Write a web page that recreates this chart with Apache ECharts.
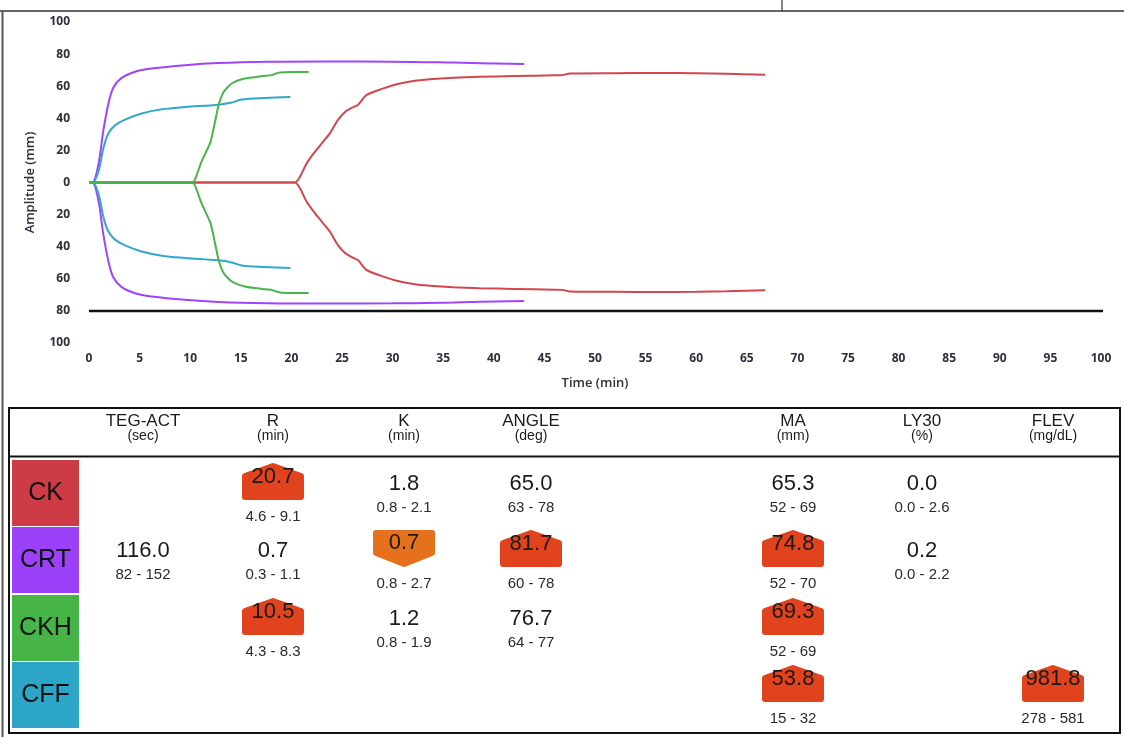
<!DOCTYPE html>
<html>
<head>
<meta charset="utf-8">
<script src="https://cdn.jsdelivr.net/npm/echarts@6/dist/echarts.min.js"></script>
<style>
html,body{margin:0;padding:0;background:#fff;}
#main{width:1124px;height:737px;}
</style>
</head>
<body>
<div id="main"></div>
<script>
// ---------- tracing data (upper half amplitude, mm, vs time, min) ----------
const ckTime  = [0, 20.35, 20.85, 21.5, 22.2, 23.0, 23.8, 24.6, 25.3, 25.95, 26.6, 27.4, 28.8, 30.4, 32.05, 33.7, 36, 38.6, 42, 46, 46.8, 47.5, 52, 56, 60, 63, 66.8];
const ckAmp   = [0, 0, 3.6, 11.9, 18.2, 24.4, 30.6, 39, 44, 46.5, 48.5, 54.4, 58, 61.2, 63.3, 64.4, 65.3, 65.9, 66.3, 66.8, 66.9, 67.9, 68.1, 68.2, 68.1, 67.8, 67.2];
const crtTime = [0, 0.33, 0.92, 1.41, 1.9, 2.4, 3.2, 4.55, 6.2, 9.5, 12.8, 17.7, 23.3, 30, 36, 43];
const crtAmp  = [0, 0, 11, 32, 48.6, 59, 65, 69, 71, 73.1, 74.4, 75.2, 75.4, 75.3, 74.7, 73.8];
const ckhTime = [0, 10.2, 10.5, 11.1, 12.0, 12.45, 12.8, 13.3, 14.1, 15.4, 17.1, 18.05, 18.4, 18.9, 20, 21.7];
const ckhAmp  = [0, 0, 2.3, 12.7, 25.2, 37.7, 48.1, 56.4, 61.7, 64.8, 66.3, 66.9, 67.8, 68.5, 68.8, 68.9];
const cffTime = [0, 0.36, 0.92, 1.41, 1.9, 2.57, 3.56, 5.2, 7.2, 9.5, 12.8, 14.1, 15.1, 17.4, 19.9];
const cffAmp  = [0, 0, 6.5, 21, 30.4, 35.6, 39.2, 43, 45.6, 47, 48.5, 49.8, 51.7, 52.7, 53.3];
const refLevel = -80;
const refSpan = [0, 100.9];

// ---------- table data ----------
const rowNames = ['CK', 'CRT', 'CKH', 'CFF'];
const params = ['TEG-ACT', 'R', 'K', 'ANGLE', 'MA', 'LY30', 'FLEV'];
const units = ['(sec)', '(min)', '(min)', '(deg)', '(mm)', '(%)', '(mg/dL)'];
const ckValues  = [null, '20.7', '1.8', '65.0', '65.3', '0.0', null];
const crtValues = ['116.0', '0.7', '0.7', '81.7', '74.8', '0.2', null];
const ckhValues = [null, '10.5', '1.2', '76.7', '69.3', null, null];
const cffValues = [null, null, null, null, '53.8', null, '981.8'];
const ckRanges  = [null, '4.6 - 9.1', '0.8 - 2.1', '63 - 78', '52 - 69', '0.0 - 2.6', null];
const crtRanges = ['82 - 152', '0.3 - 1.1', '0.8 - 2.7', '60 - 78', '52 - 70', '0.0 - 2.2', null];
const ckhRanges = [null, '4.3 - 8.3', '0.8 - 1.9', '64 - 77', '52 - 69', null, null];
const cffRanges = [null, null, null, null, '15 - 32', null, '278 - 581'];
const ckFlags  = ['', 'H', '', '', '', '', ''];
const crtFlags = ['', '', 'L', 'H', 'H', '', ''];
const ckhFlags = ['', 'H', '', '', 'H', '', ''];
const cffFlags = ['', '', '', '', 'H', '', 'H'];

const lineColors = ['#d2474f', '#a044fb', '#49b449', '#31a7cc'];
const boxColors  = ['#cd3c46', '#9b41fa', '#46b446', '#2da5c6'];

// ---------- build ----------
const samples = [
  {name: 'CK',  t: ckTime,  a: ckAmp,  c: lineColors[0], sm: 0.2},
  {name: 'CRT', t: crtTime, a: crtAmp, c: lineColors[1], sm: 0.35},
  {name: 'CFF', t: cffTime, a: cffAmp, c: lineColors[3], sm: 0.35},
  {name: 'CKH', t: ckhTime, a: ckhAmp, c: lineColors[2], sm: 0.2}
];
const series = [];
samples.forEach(s => {
  [1, -1].forEach(sign => {
    series.push({
      name: s.name, type: 'line', symbol: 'none', smooth: s.sm,
      lineStyle: {color: s.c, width: 2}, itemStyle: {color: s.c},
      data: s.t.map((t, i) => [t, sign * s.a[i]]), silent: true, z: 3
    });
  });
});
series.unshift({
  type: 'line', symbol: 'none', clip: false, silent: true, z: 2,
  lineStyle: {color: '#111', width: 2.5},
  data: refSpan.map(t => [t, refLevel])
});

const FONT = '"Liberation Sans", Arial, sans-serif';
const colX = [143, 273, 404, 531, 793, 922, 1053];
const rowTop0 = 460, rowH = 67;
const graphic = [];
function txt(x, y, text, size, color, extra) {
  graphic.push(Object.assign({
    type: 'text', z: 20, silent: true,
    style: {x: x, y: y, text: text, font: size + 'px ' + FONT, fill: color,
      textAlign: 'center', textVerticalAlign: 'middle', align: 'center', verticalAlign: 'middle'}
  }, extra || {}));
}
function line(x1, y1, x2, y2, color, w) {
  graphic.push({type: 'line', z: 10, silent: true, shape: {x1, y1, x2, y2}, style: {stroke: color, lineWidth: w}});
}
// page frame
line(0, 11, 1124, 11, '#333', 1.5);
line(782, 0, 782, 11, '#333', 1.2);
line(2.5, 11, 2.5, 737, '#555', 2);
// table border
graphic.push({type: 'rect', z: 10, silent: true, shape: {x: 9, y: 408, width: 1111, height: 325},
  style: {fill: 'none', stroke: '#111', lineWidth: 2}});
line(9, 456.5, 1120, 456.5, '#111', 2);
// headers
params.forEach((p, j) => {
  txt(colX[j], 421, p, 17, '#1b1b1b');
  txt(colX[j], 436, units[j], 14, '#1b1b1b');
});
const allValues = [ckValues, crtValues, ckhValues, cffValues];
const allRanges = [ckRanges, crtRanges, ckhRanges, cffRanges];
const allFlags = [ckFlags, crtFlags, ckhFlags, cffFlags];
rowNames.forEach((r, i) => {
  const top = rowTop0 + i * rowH + (i >= 2 ? 1 : 0);
  graphic.push({type: 'rect', z: 10, silent: true, shape: {x: 12, y: top, width: 67, height: 66},
    style: {fill: boxColors[i]}});
  txt(45.5, top + 33, r, 25, '#111');
  params.forEach((p, j) => {
    const v = allValues[i][j], rg = allRanges[i][j], f = allFlags[i][j];
    const cx = colX[j];
    if (f === 'H' || f === 'L') {
      const ty = top + 3;
      let pts;
      if (f === 'H') {
        pts = [[cx - 28, ty + 34], [cx - 28, ty + 13], [cx, ty + 3], [cx + 28, ty + 13], [cx + 28, ty + 34]];
      } else {
        pts = [[cx - 28, ty + 3], [cx + 28, ty + 3], [cx + 28, ty + 23], [cx, ty + 34], [cx - 28, ty + 23]];
      }
      const col = f === 'H' ? '#e0431d' : '#e6711d';
      graphic.push({type: 'polygon', z: 11, silent: true, shape: {points: pts},
        style: {fill: col, stroke: col, lineWidth: 6, lineJoin: 'round'}});
      if (v !== null) txt(cx, top + (f === 'H' ? 17 : 16), v, 22, '#1a1a1a');
      if (rg !== null) txt(cx, top + 57, rg, 15, '#2a2a2a');
    } else {
      if (v !== null) txt(cx, top + 24, v, 22, '#1a1a1a');
      if (rg !== null) txt(cx, top + 48, rg, 15, '#2a2a2a');
    }
  });
});

const axisLabelStyle = {fontSize: 12, fontWeight: 'bold', color: '#2e2e3c', fontFamily: '"Open Sans", sans-serif'};
const axisNameStyle = {fontSize: 13, fontWeight: 600, color: '#2e2e3c', fontFamily: '"Open Sans", sans-serif'};
const chart = echarts.init(document.getElementById('main'));
chart.setOption({
  backgroundColor: '#fff',
  animation: false,
  grid: {left: 89, right: 23, top: 22, bottom: 394, containLabel: false},
  xAxis: {
    type: 'value', min: 0, max: 100, interval: 5,
    name: 'Time (min)', nameLocation: 'middle', nameGap: 34,
    nameTextStyle: axisNameStyle,
    axisLine: {show: false}, axisTick: {show: false}, splitLine: {show: false},
    axisLabel: Object.assign({margin: 10}, axisLabelStyle)
  },
  yAxis: {
    type: 'value', min: -100, max: 100, interval: 20,
    name: 'Amplitude (mm)', nameLocation: 'middle', nameGap: 52,
    nameTextStyle: axisNameStyle,
    axisLine: {show: false}, axisTick: {show: false}, splitLine: {show: false},
    axisLabel: Object.assign({margin: 19, formatter: v => String(Math.abs(v))}, axisLabelStyle)
  },
  series: series,
  graphic: graphic
});
</script>
</body>
</html>
